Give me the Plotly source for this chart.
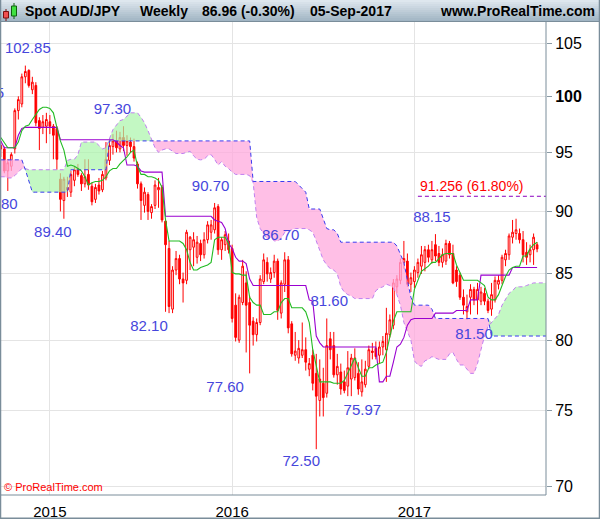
import numpy as np
import pandas as pd
import plotly.graph_objects as go

# ------------------------------------------------------------------ data
week_start = "2014-09-29"

open_ = [95.6, 95.3, 93.4, 93.8, 95.3, 98.7, 99.3, 101.8, 102.4, 100.6,
         101.0, 97.8, 97.2, 97.3, 97.7, 97.3, 97.1, 92.7, 90.9, 92.0,
         91.6, 92.6, 93.6, 93.0, 92.3, 93.1, 92.1, 91.0, 92.2, 91.8,
         92.8, 94.3, 95.5, 96.0, 95.3, 96.3, 95.6, 95.9, 95.5, 94.0,
         92.3, 90.5, 91.4, 89.9, 90.5, 91.8, 92.0, 89.2, 87.0, 82.3,
         85.3, 86.2, 84.6, 84.5, 86.9, 87.1, 86.3, 87.4, 86.5, 87.7,
         88.3, 88.5, 90.4, 86.9, 87.3, 87.6, 87.0, 82.6, 80.0, 82.8,
         84.3, 82.8, 81.4, 80.4, 81.3, 84.4, 85.9, 84.6, 85.1, 86.0,
         82.0, 84.2, 86.1, 81.2, 78.9, 78.7, 78.9, 79.3, 77.9, 78.9,
         77.6, 75.7, 76.9, 76.2, 80.1, 79.6, 77.5, 77.7, 77.0, 76.7,
         77.2, 77.3, 77.6, 76.3, 76.8, 78.1, 79.2, 79.4, 78.9, 79.5,
         79.3, 80.4, 81.1, 84.0, 84.5, 85.9, 86.0, 84.2, 84.4, 85.1,
         85.6, 85.9, 86.9, 86.1, 87.3, 86.6, 85.9, 86.0, 87.4, 86.6,
         85.3, 84.9, 83.2, 82.1, 83.2, 83.8, 83.0, 82.9, 83.5, 82.9,
         82.3, 83.0, 84.2, 84.5, 86.1, 86.5, 87.9, 88.2, 88.2, 87.7,
         86.7, 86.5, 86.9, 87.3]
high = [96.0, 95.5, 94.4, 95.0, 98.9, 100.0, 102.1, 102.85, 102.5, 101.8,
        101.3, 98.1, 98.3, 98.5, 98.3, 97.5, 97.3, 93.2, 92.9, 92.9,
        93.4, 93.8, 94.0, 93.2, 94.4, 94.4, 92.4, 92.3, 92.8, 93.4,
        95.9, 96.1, 96.6, 96.9, 96.8, 97.3, 96.5, 96.3, 96.2, 94.2,
        92.5, 92.0, 91.6, 90.6, 92.6, 92.8, 92.2, 89.4, 87.6, 85.6,
        86.8, 86.5, 85.1, 88.5, 88.0, 88.3, 88.0, 87.7, 88.3, 89.2,
        89.3, 90.7, 90.6, 87.9, 88.4, 88.2, 87.3, 83.5, 83.4, 86.1,
        85.2, 83.3, 81.7, 81.6, 84.9, 86.6, 86.3, 85.5, 86.5, 86.2,
        84.5, 86.7, 86.4, 81.4, 80.6, 80.0, 81.3, 80.2, 78.7, 79.3,
        79.0, 78.6, 78.0, 81.6, 80.6, 80.6, 79.0, 78.3, 77.8, 79.2,
        79.0, 79.4, 78.4, 78.6, 78.5, 79.6, 79.8, 79.9, 79.9, 80.3,
        82.4, 81.9, 84.6, 84.9, 86.2, 87.6, 86.6, 85.1, 85.6, 86.2,
        87.2, 87.2, 87.3, 87.6, 88.15, 87.2, 87.0, 87.7, 87.6, 87.3,
        85.6, 85.1, 83.8, 83.4, 84.2, 84.0, 84.3, 84.0, 83.9, 83.1,
        84.3, 84.8, 84.9, 86.5, 86.9, 88.2, 89.3, 89.4, 88.6, 88.4,
        87.5, 87.3, 88.2, 87.5]
low = [94.6, 93.2, 91.7, 93.4, 94.9, 97.9, 99.0, 101.2, 100.8, 100.2,
       97.3, 95.2, 96.6, 95.8, 96.6, 94.4, 93.5, 90.0, 89.4, 91.2,
       91.2, 92.1, 92.9, 91.7, 92.0, 91.8, 90.5, 90.7, 91.4, 91.6,
       92.6, 93.9, 94.8, 95.0, 95.0, 95.1, 94.7, 95.0, 94.2, 91.9,
       89.3, 89.9, 89.3, 89.4, 90.2, 90.3, 89.1, 82.1, 82.0, 82.0,
       84.9, 84.2, 82.8, 84.2, 85.3, 85.6, 85.8, 86.0, 86.2, 87.4,
       87.7, 88.2, 86.5, 86.1, 86.8, 86.6, 81.3, 79.9, 79.8, 82.6,
       79.1, 77.6, 79.6, 79.9, 81.1, 84.2, 84.4, 84.3, 84.7, 81.5,
       81.6, 83.6, 80.5, 78.8, 78.5, 78.3, 78.7, 77.8, 77.4, 76.4,
       72.4, 74.6, 74.6, 75.9, 78.6, 77.3, 76.8, 76.1, 76.2, 76.0,
       76.0, 77.1, 76.1, 75.97, 76.6, 77.9, 78.6, 78.6, 78.3, 78.9,
       77.0, 80.2, 80.8, 83.5, 84.2, 85.4, 84.0, 83.6, 83.9, 84.7,
       85.0, 85.2, 85.9, 85.8, 86.0, 85.6, 85.5, 85.7, 86.2, 84.2,
       84.0, 83.0, 81.9, 81.5, 81.9, 82.6, 81.9, 82.6, 82.6, 82.0,
       81.8, 82.8, 83.8, 84.2, 85.6, 86.1, 87.4, 87.7, 87.4, 85.9,
       85.7, 85.9, 85.7, 86.7]
close = [95.3, 93.4, 94.1, 94.8, 98.7, 99.7, 101.8, 102.3, 101.0, 101.3,
         97.6, 97.1, 97.7, 97.9, 97.3, 96.5, 94.4, 91.0, 92.7, 91.8,
         93.1, 93.5, 93.1, 92.3, 92.9, 92.2, 90.8, 92.0, 91.7, 93.1,
         94.4, 95.6, 96.0, 95.4, 96.3, 95.6, 96.0, 95.5, 94.5, 92.3,
         90.9, 91.6, 90.0, 90.4, 92.2, 92.0, 89.3, 87.3, 82.5, 85.3,
         86.2, 84.6, 84.3, 88.3, 87.9, 87.7, 87.5, 86.5, 87.7, 88.9,
         88.9, 90.3, 86.9, 87.7, 88.1, 86.9, 81.6, 80.2, 83.2, 85.6,
         82.6, 81.1, 80.4, 81.3, 84.6, 86.1, 85.0, 85.1, 86.0, 82.2,
         84.3, 86.1, 80.9, 79.0, 79.2, 79.4, 79.3, 78.4, 78.3, 76.9,
         76.0, 77.2, 75.9, 79.6, 79.3, 77.5, 78.1, 76.5, 76.4, 78.0,
         78.7, 78.7, 76.5, 77.0, 77.9, 79.3, 79.1, 78.8, 79.5, 79.9,
         80.5, 81.5, 84.3, 84.6, 85.9, 86.2, 84.2, 84.7, 85.3, 85.9,
         86.5, 86.9, 86.3, 86.9, 86.4, 85.9, 86.5, 87.4, 86.5, 84.3,
         84.4, 83.2, 82.6, 82.5, 83.8, 83.0, 83.8, 83.6, 82.9, 82.2,
         83.4, 84.5, 84.5, 86.3, 86.6, 88.0, 88.3, 88.5, 87.7, 86.5,
         86.3, 86.9, 87.9, 86.96]

tenkan = [96.3, 95.8, 95.4, 95.4, 95.4, 95.9, 96.9, 97.3, 97.4, 97.9,
          98.3, 98.8, 99.0, 99.0, 98.9, 98.5, 97.2, 96.0, 95.2, 93.8,
          93.9, 93.8, 93.6, 93.4, 92.9, 92.2, 92.4, 92.5, 92.5, 92.6,
          92.9, 93.4, 93.6, 93.6, 94.0, 94.3, 94.6, 95.0, 95.2, 93.8,
          93.1, 93.1, 92.9, 92.9, 92.8, 92.6, 92.0, 89.3, 87.6, 87.6,
          87.6, 87.6, 87.4, 86.9, 85.9, 85.3, 85.3, 85.5, 85.6, 85.7,
          85.9, 87.7, 87.9, 87.9, 87.9, 87.4, 85.1, 85.0, 85.0, 84.9,
          84.9, 83.2, 82.8, 82.6, 82.6, 81.9, 81.9, 81.9, 82.1, 82.1,
          82.8, 83.1, 83.1, 82.4, 82.4, 82.4, 82.4, 82.1, 81.3, 79.3,
          78.2, 77.0, 77.0, 77.0, 77.0, 76.9, 76.9, 76.9, 77.1, 77.6,
          78.2, 78.7, 78.0, 77.4, 77.4, 78.0, 78.0, 78.2, 78.3, 78.4,
          79.1, 80.2, 81.4, 82.1, 82.1, 82.1, 82.1, 82.1, 83.8, 84.5,
          85.2, 85.4, 85.6, 85.9, 85.9, 86.2, 86.5, 86.6, 86.6, 86.6,
          85.7, 85.1, 84.5, 84.5, 84.5, 84.5, 84.5, 84.3, 84.1, 83.2,
          83.0, 83.0, 83.4, 84.1, 84.8, 85.3, 85.5, 85.6, 85.6, 86.4,
          86.4, 87.0, 87.3, 87.5]

kijun = [96.0, 95.4, 95.4, 95.4, 95.4, 96.5, 97.1, 97.2, 97.2, 97.2,
         97.2, 97.2, 97.2, 97.2, 97.2, 97.2, 97.2, 96.1, 96.1, 96.1,
         96.1, 96.1, 96.1, 96.1, 96.1, 96.1, 96.1, 96.1, 96.1, 96.1,
         96.1, 96.1, 96.1, 95.9, 95.6, 95.4, 93.9, 93.9, 93.9, 93.8,
         93.4, 93.3, 93.3, 93.3, 93.3, 93.3, 93.3, 89.6, 89.6, 89.6,
         89.6, 89.6, 89.6, 89.6, 89.6, 89.6, 89.6, 89.6, 89.6, 89.6,
         89.6, 89.3, 89.2, 89.1, 88.6, 87.4, 87.0, 86.3, 86.0, 86.0,
         85.8, 84.6, 84.1, 84.1, 84.1, 84.1, 84.1, 84.1, 84.1, 84.1,
         84.1, 84.1, 84.1, 84.1, 84.1, 84.1, 84.1, 84.1, 83.0, 82.9,
         80.3, 79.8, 79.5, 79.5, 79.5, 79.5, 79.5, 79.5, 79.5, 79.5,
         79.5, 79.5, 79.5, 79.5, 79.5, 79.5, 79.5, 79.5, 77.0, 77.0,
         77.4, 77.4, 78.4, 79.5, 79.7, 80.2, 81.1, 81.5, 81.6, 81.6,
         81.6, 81.6, 81.6, 81.6, 82.0, 82.0, 82.0, 82.0, 82.0, 82.0,
         82.2, 82.2, 82.2, 82.2, 83.0, 83.0, 83.0, 84.9, 84.9, 84.9,
         84.9, 84.9, 84.9, 84.9, 84.9, 84.9, 85.5, 85.5, 85.5, 85.5,
         85.5, 85.5, 85.5, 85.5]

# cloud spans as plotted (already displaced 26 weeks forward)
span_a = [92.9, 92.9, 92.8, 92.8, 93.0, 93.3, 93.6, 93.6, 93.5, 93.5,
          93.5, 93.5, 93.5, 93.5, 93.5, 93.5, 93.5, 93.5, 93.5, 94.3,
          94.4, 94.4, 94.8, 95.9, 95.9, 95.9, 95.9, 95.9, 95.6, 95.3,
          95.4, 96.2, 97.0, 97.4, 97.8, 97.9, 98.2, 98.5, 98.5, 98.5,
          98.1, 97.6, 96.9, 96.1, 95.4, 95.0, 95.2, 95.3, 95.3, 95.1,
          94.9, 94.9, 94.9, 95.0, 95.1, 94.7, 94.4, 94.35, 94.4, 94.7,
          94.8, 94.4, 93.9, 94.2, 93.8, 93.6, 93.3, 93.1, 93.1, 93.1,
          93.1, 93.0, 92.4, 89.5, 88.6, 88.2, 87.7, 87.9, 87.6, 87.6,
          87.8, 88.3, 88.4, 88.5, 88.6, 88.6, 88.6, 88.6, 88.5, 88.3,
          87.6, 86.9, 86.1, 85.7, 85.4, 85.3, 85.0, 84.0, 83.6, 83.4,
          83.3, 83.1, 83.1, 83.1, 83.1, 83.1, 83.1, 83.7, 83.9, 84.0,
          84.2, 84.1, 83.9, 83.4, 82.6, 81.3, 80.6, 80.0, 78.5, 78.2,
          78.1, 78.5, 78.6, 78.8, 78.7, 78.6, 78.6, 78.6, 79.0, 79.1,
          78.6, 78.2, 78.2, 77.9, 77.6, 77.6, 78.3, 79.3, 80.3, 81.0,
          81.3, 81.6, 81.9, 82.6, 83.0, 83.5, 83.7, 84.0, 84.0, 84.0,
          84.1, 84.2, 84.3, 84.3, 84.3, 84.3, 84.3]
span_b = [94.35, 94.35, 94.35, 94.35, 94.35, 94.35, 94.35, 93.5, 92.6, 91.6,
          91.6, 91.6, 91.6, 91.6, 91.6, 91.6, 91.6, 91.6, 91.6, 91.6,
          93.5, 93.5, 93.5, 93.5, 93.5, 93.5, 93.5, 93.5, 93.5, 93.5,
          93.5, 96.0, 96.0, 96.0, 96.0, 96.0, 96.0, 96.0, 96.0, 96.0,
          96.0, 96.0, 96.0, 96.0, 96.0, 96.0, 96.0, 96.0, 96.0, 96.0,
          96.0, 96.0, 96.0, 96.0, 96.0, 96.0, 96.0, 96.0, 96.0, 96.0,
          96.0, 96.0, 96.0, 96.0, 96.0, 96.0, 96.0, 96.0, 96.0, 96.0,
          96.0, 96.0, 92.5, 92.5, 92.5, 92.5, 92.5, 92.5, 92.5, 92.5,
          92.5, 92.5, 92.5, 92.5, 92.5, 92.2, 91.9, 91.6, 90.2, 90.2,
          90.2, 90.2, 89.4, 88.6, 88.5, 88.5, 88.2, 87.5, 87.5, 87.5,
          87.5, 87.5, 87.5, 87.5, 87.5, 87.5, 87.5, 87.5, 87.5, 87.5,
          87.5, 87.5, 87.5, 87.2, 86.6, 85.9, 84.5, 83.2, 82.6, 82.6,
          82.6, 82.6, 82.6, 82.3, 81.6, 81.6, 81.6, 81.6, 81.6, 81.6,
          81.6, 81.6, 81.6, 81.6, 81.6, 81.6, 81.6, 81.6, 81.6, 81.6,
          80.3, 80.3, 80.3, 80.3, 80.3, 80.3, 80.3, 80.3, 80.3, 80.3,
          80.3, 80.3, 80.3, 80.3, 80.3, 80.3, 80.3]

label_text = ["98.75", "91.80", "102.85", "89.40", "97.30", "82.10", "90.70",
              "77.60", "86.70", "72.50", "81.60", "75.97", "88.15", "81.50"]
label_price = [98.75, 91.80, 102.85, 89.40, 97.30, 82.10, 90.70,
               77.60, 86.70, 72.50, 81.60, 75.97, 88.15, 81.50]
label_kind = ["high", "low", "high", "low", "high", "low", "high",
              "low", "high", "low", "high", "low", "high", "low"]
label_date = ["2014-08-29", "2014-09-25", "2014-11-22", "2015-01-11", "2015-05-10",
              "2015-07-22", "2015-11-22", "2015-12-21", "2016-04-10", "2016-05-21",
              "2016-07-16", "2016-09-20", "2017-02-06", "2017-05-01"]

fib_level = 91.256
fib_text = "91.256 (61.80%)"
fib_start = "2017-01-09"

year_ticks = ["2015-01-05", "2016-01-04", "2017-01-02"]
year_text = ["2015", "2016", "2017"]
price_ticks = [70, 75, 80, 85, 90, 95, 100, 105]

# ------------------------------------------------------------------ layout constants
W, H = 600, 519
ML, MR, MT, MB = 1, 54, 22, 24
PW, PH = W - ML - MR, H - MT - MB
X_RANGE = ["2014-09-29 09:36", "2017-09-21 19:12"]
Y_LOG = [1.841524, 2.029536]
PX_PER_DEC = PH / (Y_LOG[1] - Y_LOG[0])

FONT = "Liberation Sans, Arial, sans-serif"
RED = "#ff0000"
BLUE_LBL = "#4646dc"


def pxx(px):
    return (px - ML) / PW


def pxy(py):
    return (MT + PH - py) / PH


cdates = pd.date_range(week_start, periods=len(close), freq="7D")
kdates = pd.date_range(week_start, periods=len(span_a), freq="7D")
a = np.array(span_a)
b = np.array(span_b)
upper = np.maximum(a, b)

fig = go.Figure()

# cloud: pink where A < B, green where A > B
fig.add_trace(go.Scatter(x=kdates, y=upper, mode="lines", line=dict(width=0),
                         hoverinfo="skip", showlegend=False))
fig.add_trace(go.Scatter(x=kdates, y=a, mode="lines", line=dict(width=0),
                         fill="tonexty", fillcolor="rgba(255,170,222,0.75)",
                         hoverinfo="skip", showlegend=False))
fig.add_trace(go.Scatter(x=kdates, y=upper, mode="lines", line=dict(width=0),
                         hoverinfo="skip", showlegend=False))
fig.add_trace(go.Scatter(x=kdates, y=b, mode="lines", line=dict(width=0),
                         fill="tonexty", fillcolor="rgba(170,245,170,0.7)",
                         hoverinfo="skip", showlegend=False))
fig.add_trace(go.Scatter(x=kdates, y=a, mode="lines",
                         line=dict(color="#c07ff0", width=1, dash="4px,3px"),
                         hoverinfo="skip", showlegend=False))
fig.add_trace(go.Scatter(x=kdates, y=b, mode="lines",
                         line=dict(color="#3a3af0", width=1, dash="4px,3px"),
                         hoverinfo="skip", showlegend=False))

# candles
fig.add_trace(go.Candlestick(
    x=cdates, open=open_, high=high, low=low, close=close,
    increasing=dict(line=dict(color=RED, width=1), fillcolor="white"),
    decreasing=dict(line=dict(color=RED, width=1), fillcolor=RED),
    whiskerwidth=0, showlegend=False, hoverinfo="skip"))

# kijun / tenkan
fig.add_trace(go.Scatter(x=cdates, y=kijun, mode="lines",
                         line=dict(color="#9a00d0", width=1.1),
                         hoverinfo="skip", showlegend=False))
fig.add_trace(go.Scatter(x=cdates, y=tenkan, mode="lines",
                         line=dict(color="#22bb22", width=1.1),
                         hoverinfo="skip", showlegend=False))

# swing labels (clipped to plot area)
lab_y = []
for p, k in zip(label_price, label_kind):
    off = 16 if k == "high" else -15
    lab_y.append(p * 10 ** (off / PX_PER_DEC))
fig.add_trace(go.Scatter(x=pd.to_datetime(label_date), y=lab_y, mode="text",
                         text=label_text, textposition="middle center",
                         textfont=dict(family=FONT, size=15, color=BLUE_LBL),
                         cliponaxis=True, hoverinfo="skip", showlegend=False))

# fibonacci level
fig.add_shape(type="line", xref="x", yref="y", x0=fib_start, x1=X_RANGE[1],
              y0=fib_level, y1=fib_level,
              line=dict(color="#8a00c0", width=1, dash="4px,3px"))
fig.add_annotation(x=fib_start, y=np.log10(fib_level), xref="x", yref="y",
                   text=fib_text, showarrow=False, xanchor="left", yanchor="bottom",
                   yshift=0, font=dict(family=FONT, size=14, color=RED))

# ------------------------------------------------------------------ header bar
top_c = np.array([222, 231, 238])
bot_c = np.array([160, 180, 195])
nb = 11
for j in range(nb):
    c = top_c + (bot_c - top_c) * j / (nb - 1)
    fig.add_shape(type="rect", xref="paper", yref="paper",
                  x0=pxx(0), x1=pxx(600), y0=pxy(2 * j + 2), y1=pxy(2 * j),
                  line=dict(width=0), fillcolor="rgb(%d,%d,%d)" % tuple(c.astype(int)),
                  layer="above")
fig.add_shape(type="line", xref="paper", yref="paper", x0=pxx(0), x1=pxx(600),
              y0=pxy(21.5), y1=pxy(21.5), line=dict(color="#7a8d9a", width=1), layer="above")
# small candle icon
fig.add_shape(type="line", xref="paper", yref="paper", x0=pxx(6), x1=pxx(6),
              y0=pxy(9), y1=pxy(21), line=dict(color="#7a1010", width=1), layer="above")
fig.add_shape(type="rect", xref="paper", yref="paper", x0=pxx(3.5), x1=pxx(8.5),
              y0=pxy(18), y1=pxy(11.5), line=dict(color="#7a1010", width=1),
              fillcolor="#f05050", layer="above")
fig.add_shape(type="line", xref="paper", yref="paper", x0=pxx(14), x1=pxx(14),
              y0=pxy(3), y1=pxy(19), line=dict(color="#106010", width=1), layer="above")
fig.add_shape(type="rect", xref="paper", yref="paper", x0=pxx(11.5), x1=pxx(16.5),
              y0=pxy(16), y1=pxy(6), line=dict(color="#106010", width=1),
              fillcolor="#40e040", layer="above")

head_font = dict(family=FONT, size=14, color="black")
for txt, x0 in [("Spot AUD/JPY", 23), ("Weekly", 138), ("86.96 (-0.30%)", 200),
                ("05-Sep-2017", 308)]:
    fig.add_annotation(x=pxx(x0), y=pxy(11), xref="paper", yref="paper",
                       text="<b>%s</b>" % txt, showarrow=False, xanchor="left",
                       yanchor="middle", font=head_font)
fig.add_annotation(x=pxx(597), y=pxy(11), xref="paper", yref="paper",
                   text="<b>www.ProRealTime.com</b>", showarrow=False, xanchor="right",
                   yanchor="middle", font=head_font)
fig.add_annotation(x=pxx(2), y=pxy(487), xref="paper", yref="paper",
                   text="© ProRealTime.com", showarrow=False, xanchor="left",
                   yanchor="middle", font=dict(family=FONT, size=11, color=RED))

# frames
frame = "#7a8d9a"
fig.add_shape(type="line", xref="paper", yref="paper", x0=pxx(546), x1=pxx(546),
              y0=pxy(495), y1=pxy(22), line=dict(color=frame, width=1), layer="above")
fig.add_shape(type="line", xref="paper", yref="paper", x0=pxx(0), x1=pxx(546),
              y0=pxy(495), y1=pxy(495), line=dict(color=frame, width=1), layer="above")
fig.add_shape(type="line", xref="paper", yref="paper", x0=pxx(0.5), x1=pxx(0.5),
              y0=pxy(519), y1=pxy(0), line=dict(color=frame, width=1.5), layer="above")
fig.add_shape(type="line", xref="paper", yref="paper", x0=pxx(599.5), x1=pxx(599.5),
              y0=pxy(519), y1=pxy(0), line=dict(color=frame, width=1.5), layer="above")
fig.add_shape(type="line", xref="paper", yref="paper", x0=pxx(0), x1=pxx(600),
              y0=pxy(518.3), y1=pxy(518.3), line=dict(color=frame, width=1.5), layer="above")

price_text = ["<b>%d</b>" % v if v == 100 else str(v) for v in price_ticks]

fig.update_layout(
    width=W, height=H,
    margin=dict(l=ML, r=MR, t=MT, b=MB, pad=0),
    paper_bgcolor="white", plot_bgcolor="white",
    showlegend=False, hovermode=False,
    font=dict(family=FONT, color="black"),
    xaxis=dict(type="date", range=X_RANGE, rangeslider=dict(visible=False),
               tickvals=year_ticks, ticktext=year_text,
               showgrid=True, gridcolor="#e4e4e4", gridwidth=1,
               ticks="outside", ticklen=3, tickcolor="rgba(0,0,0,0)",
               tickfont=dict(family=FONT, size=15, color="black"),
               showline=False, zeroline=False, fixedrange=True, automargin=False),
    yaxis=dict(type="log", range=Y_LOG, side="right",
               tickvals=price_ticks, ticktext=price_text,
               showgrid=True, gridcolor="#e4e4e4", gridwidth=1,
               ticks="outside", ticklen=5, tickcolor="#8a9aa5",
               tickfont=dict(family=FONT, size=16, color="black"),
               showline=False, zeroline=False, fixedrange=True, automargin=False),
)

fig.write_html("out.html",
               config={"displayModeBar": False, "staticPlot": True},
               post_script="document.body.style.margin='0px';"
                           "document.body.style.overflow='hidden';")
